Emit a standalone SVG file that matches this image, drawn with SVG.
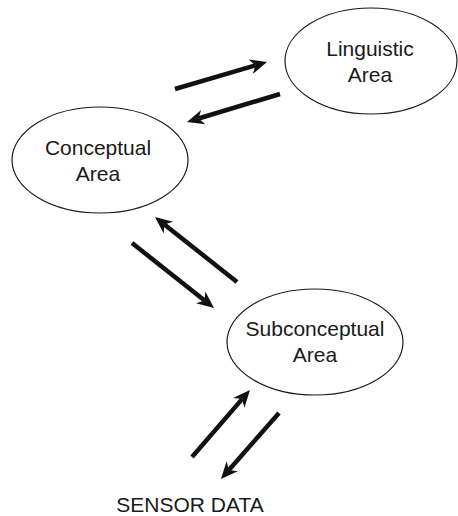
<svg xmlns="http://www.w3.org/2000/svg" width="458" height="516" viewBox="0 0 458 516">
  <style>
    .area { fill: #ffffff; stroke: #1a1a1a; stroke-width: 1.2; }
    .label { font-family: "Liberation Sans", Arial, sans-serif; font-size: 21px; fill: #1a1a1a; text-anchor: middle; }
    .flow { stroke: #111111; stroke-width: 4.5; fill: none; marker-end: url(#head); }
  </style>
  <defs>
    <!-- barbed arrowhead; refX sits at the notch so the shaft ends inside the head -->
    <marker id="head" markerUnits="userSpaceOnUse" viewBox="0 0 17 15" markerWidth="17" markerHeight="15" refX="5" refY="7.5" orient="auto" overflow="visible">
      <path d="M0,0 L17,7.5 L0,15 L5,7.5 Z" fill="#111111"/>
    </marker>
  </defs>
  <rect width="458" height="516" fill="#ffffff"/>

  <g id="linguistic">
    <ellipse class="area" cx="371" cy="61" rx="86" ry="53"/>
    <text class="label" x="370" y="56">Linguistic</text>
    <text class="label" x="370" y="82">Area</text>
  </g>

  <g id="conceptual">
    <ellipse class="area" cx="100" cy="160" rx="88" ry="53"/>
    <text class="label" x="98" y="155">Conceptual</text>
    <text class="label" x="98" y="181">Area</text>
  </g>

  <g id="subconceptual">
    <ellipse class="area" cx="315" cy="342" rx="88" ry="53"/>
    <text class="label" x="315" y="336">Subconceptual</text>
    <text class="label" x="315" y="362">Area</text>
  </g>

  <g id="sensor-data">
    <text class="label" x="190" y="512">SENSOR DATA</text>
  </g>

  <g id="connectors">
    <path class="flow" d="M175,89 L255.5,65.4"/>
    <path class="flow" d="M280,94 L198.5,118.5"/>
    <path class="flow" d="M237,282 L164.4,224.5"/>
    <path class="flow" d="M132,243 L204.6,300.5"/>
    <path class="flow" d="M192,457 L242.1,399.1"/>
    <path class="flow" d="M279,413 L228.9,470"/>
  </g>
</svg>
